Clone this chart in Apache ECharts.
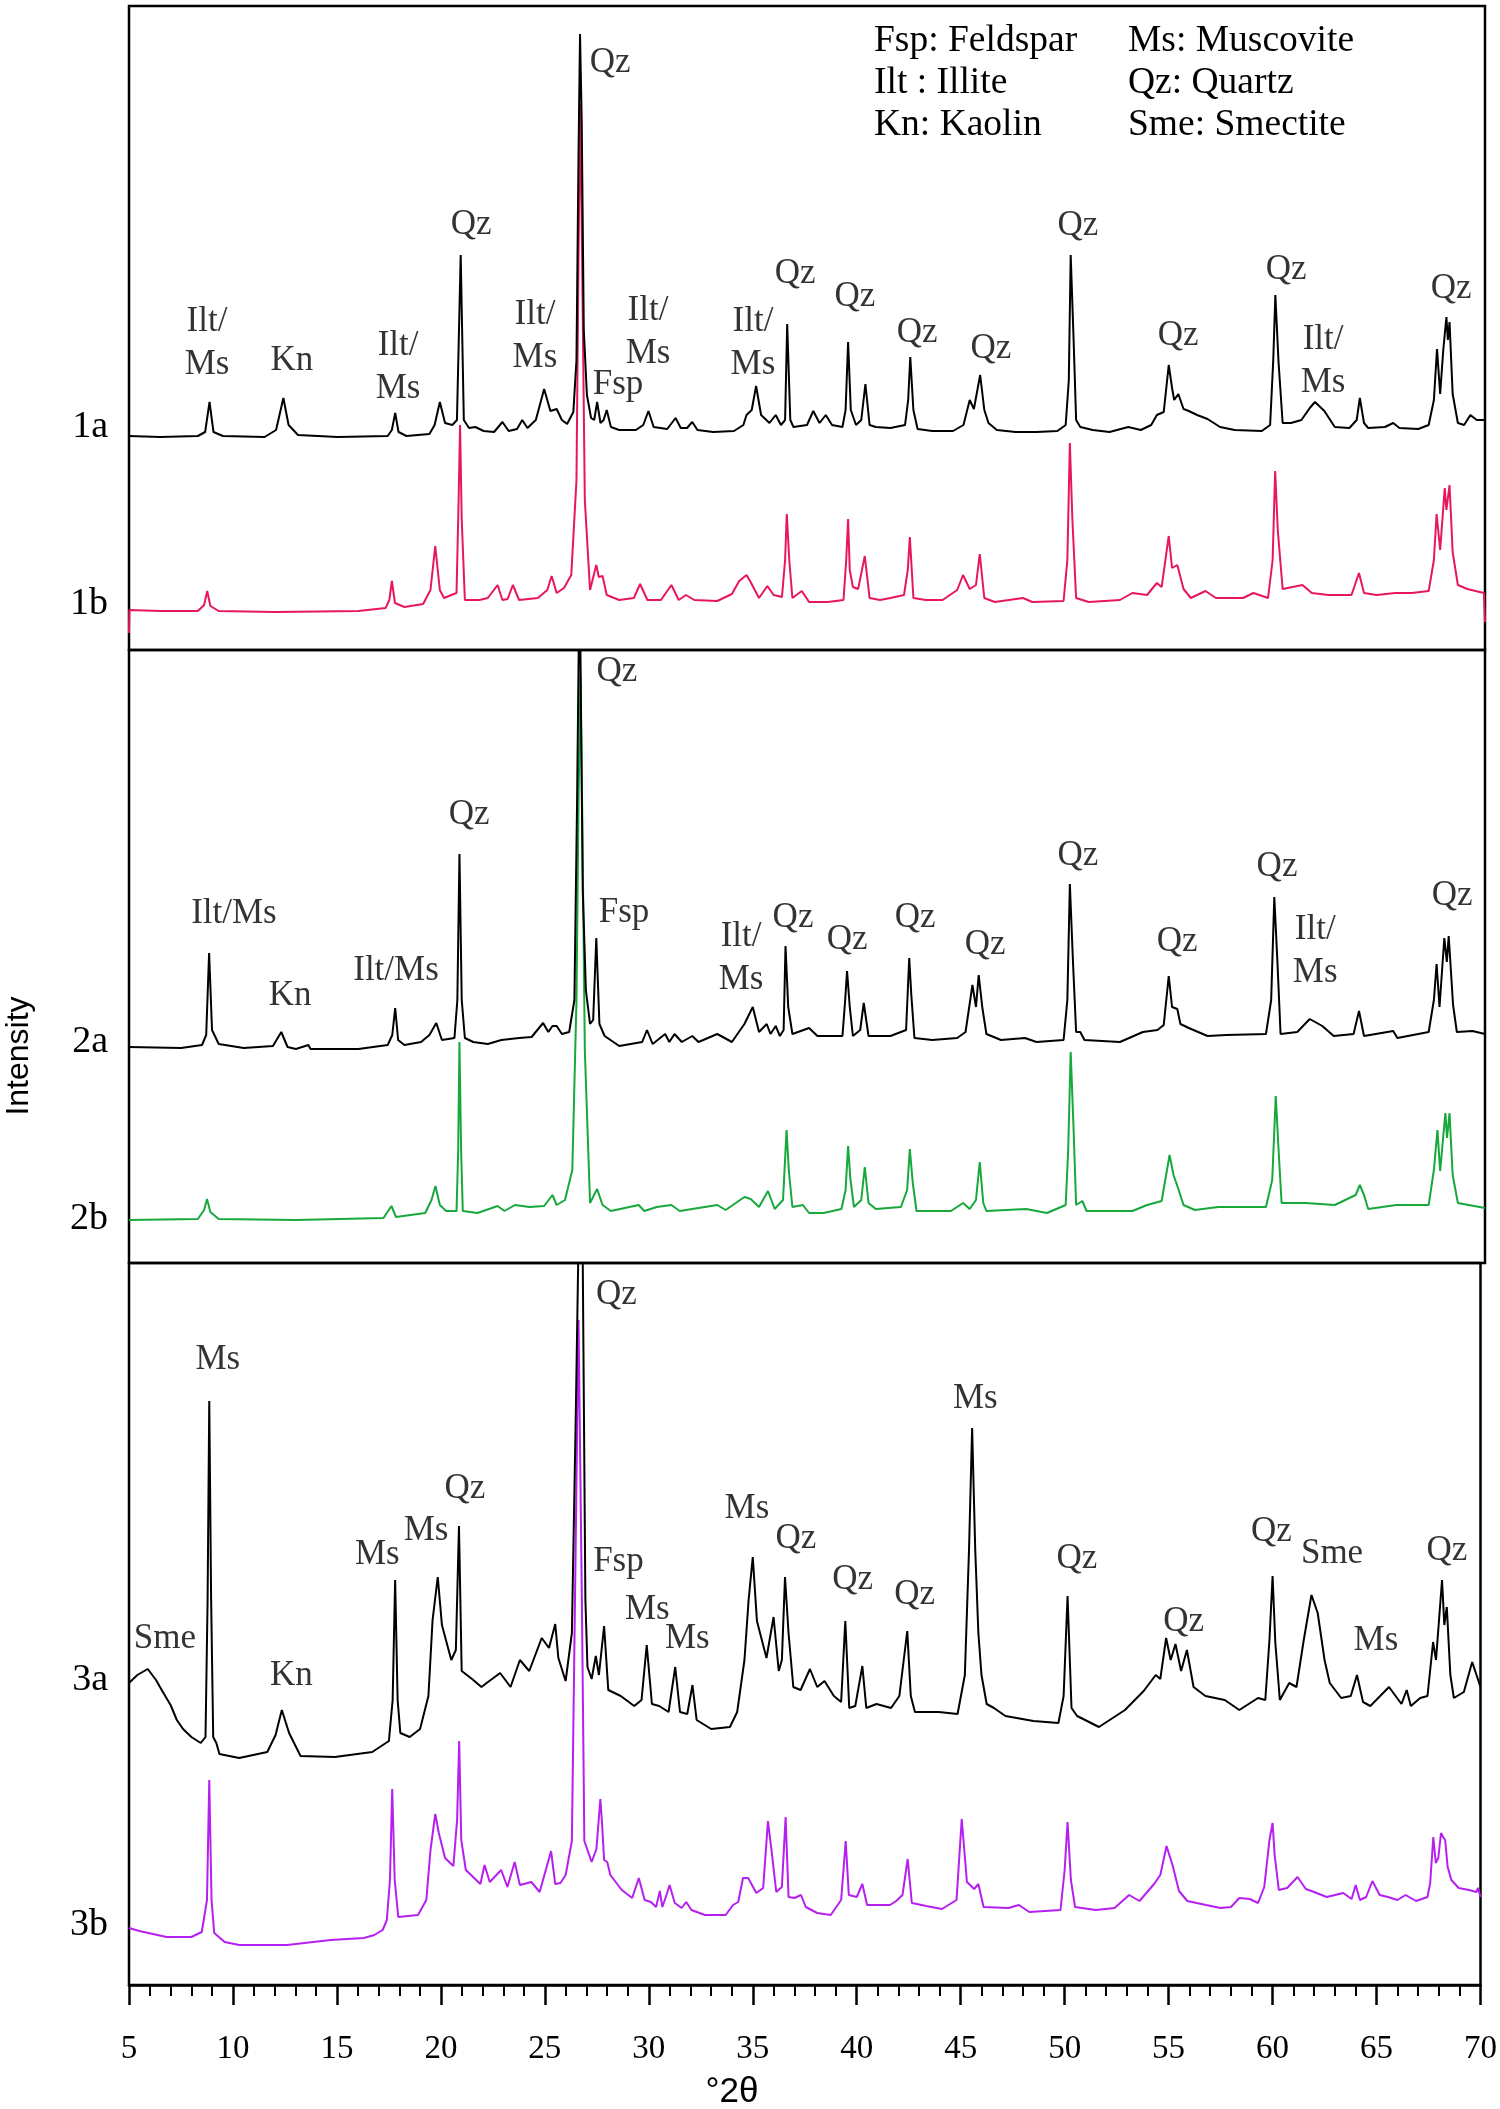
<!DOCTYPE html>
<html>
<head>
<meta charset="utf-8">
<script src="https://cdn.jsdelivr.net/npm/echarts@6/dist/echarts.min.js"></script>
<style>
html, body { margin: 0; padding: 0; background: #fff; }
#xrd { width: 1500px; height: 2109px; }
</style>
</head>
<body>
<div id="xrd"></div>
<script>
/* 数据: [2θ, 强度(a.u.)] */
const s1a = [
  [5.0,214],[6.5,213],[8.3,214],[8.65,218],[8.86,248],[9.05,218],[9.5,214],[11.5,213],[12.05,220],[12.4,252],
  [12.65,225],[13.1,215],[15,213],[17.4,214],[17.6,220],[17.76,237],[17.92,218],[18.3,214],[19.4,216],[19.65,225],
  [19.9,248],[20.15,227],[20.5,225],[20.72,230],[20.9,395],[21.05,230],[21.3,222],[21.6,223],[22.0,219],[22.5,218],
  [22.9,228],[23.2,219],[23.6,221],[23.85,230],[24.1,222],[24.5,230],[24.9,261],[25.2,239],[25.5,241],[25.75,230],
  [26.0,226],[26.3,238],[26.45,290],[26.55,500],[26.62,616],[26.7,530],[26.8,320],[26.95,255],[27.15,232],[27.3,230],
  [27.44,248],[27.6,227],[27.75,230],[27.9,240],[28.1,223],[28.5,220],[29.3,220],[29.65,225],[29.9,239],[30.15,223],
  [30.8,221],[31.2,232],[31.45,222],[31.75,222],[32.0,228],[32.25,220],[33.0,218],[34.0,219],[34.45,225],[34.6,235],
  [34.85,240],[35.06,264],[35.3,235],[35.7,227],[36.0,235],[36.25,225],[36.45,230],[36.55,326],[36.7,230],[36.85,223],
  [37.5,225],[37.8,239],[38.1,227],[38.4,235],[38.7,225],[39.2,223],[39.35,240],[39.47,308],[39.6,240],[39.85,225],
  [40.1,230],[40.3,266],[40.5,225],[40.8,223],[41.5,222],[42.2,225],[42.35,250],[42.45,293],[42.6,240],[42.8,221],
  [43.5,219],[44.5,219],[45.0,225],[45.3,250],[45.5,241],[45.8,275],[46.0,240],[46.2,227],[46.6,220],[47.5,218],
  [48.5,218],[49.5,219],[49.9,225],[50.05,270],[50.14,395],[50.28,310],[50.4,230],[50.6,223],[51.2,220],[52.0,218],
  [52.9,223],[53.5,220],[54.0,225],[54.27,235],[54.6,238],[54.84,285],[55.0,262],[55.1,250],[55.3,256],[55.55,241],
  [55.8,239],[56.2,235],[56.7,231],[57.3,223],[58.0,220],[59.3,219],[59.7,225],[59.85,290],[59.95,355],[60.1,289],
  [60.3,227],[60.7,227],[61.2,230],[61.6,242],[61.85,248],[62.3,239],[62.8,223],[63.5,222],[63.85,230],[64.0,252],
  [64.2,227],[64.4,222],[65.2,223],[65.6,227],[65.9,222],[66.8,221],[67.3,225],[67.55,250],[67.7,301],[67.85,256],
  [68.0,300],[68.15,333],[68.22,310],[68.3,328],[68.45,256],[68.7,227],[69.0,225],[69.3,235],[69.6,230],[70.0,230]
]
const s1b = [
  [5.0,17],[5.02,40],[6.5,39],[8.3,39],[8.6,45],[8.75,59],[8.9,44],[9.3,39],[12,38],[16,39],
  [17.3,42],[17.48,50],[17.6,69],[17.75,47],[18.2,43],[19.1,46],[19.45,60],[19.68,104],[19.9,60],[20.1,52],
  [20.45,55],[20.7,57],[20.8,150],[20.87,225],[20.95,130],[21.1,50],[21.8,50],[22.2,52],[22.67,65],[22.9,50],
  [23.15,51],[23.4,65],[23.7,50],[24.6,52],[25.05,60],[25.26,74],[25.5,57],[25.85,62],[26.2,75],[26.45,170],
  [26.55,400],[26.63,546],[26.72,390],[26.85,150],[27.1,60],[27.4,85],[27.52,73],[27.7,74],[27.9,55],[28.5,50],
  [29.2,52],[29.5,66],[29.85,50],[30.5,50],[31.0,65],[31.35,50],[31.7,55],[32.1,50],[33.2,49],[33.9,56],
  [34.25,69],[34.6,75],[34.77,69],[35.2,52],[35.6,64],[35.9,55],[36.3,53],[36.45,90],[36.53,136],[36.65,90],
  [36.8,52],[37.25,59],[37.6,48],[38.5,48],[39.25,50],[39.38,90],[39.47,131],[39.55,80],[39.7,63],[39.95,61],
  [40.27,94],[40.5,52],[41.0,50],[41.5,52],[42.15,55],[42.33,80],[42.43,113],[42.6,52],[43.2,50],[44.0,50],
  [44.7,60],[44.98,75],[45.3,61],[45.6,65],[45.78,96],[46.0,52],[46.5,48],[47.85,52],[48.3,48],[49.8,49],
  [49.98,90],[50.1,207],[50.22,131],[50.4,52],[51.0,48],[52.5,50],[53.1,57],[53.8,55],[54.27,67],[54.5,63],
  [54.84,114],[55.0,82],[55.25,85],[55.55,61],[55.9,52],[56.6,59],[57.1,52],[58.4,52],[58.9,57],[59.6,52],
  [59.82,90],[59.94,179],[60.07,119],[60.3,61],[61.25,65],[61.7,57],[62.5,55],[63.6,55],[63.96,77],[64.2,57],
  [64.8,55],[65.7,57],[66.5,57],[67.3,59],[67.55,90],[67.68,136],[67.85,100],[68.07,162],[68.15,140],[68.3,165],
  [68.45,98],[68.7,65],[69.15,61],[69.95,57],[70.0,28]
]
const s2a = [
  [5.0,216],[7.5,215],[8.5,218],[8.7,228],[8.84,310],[8.98,233],[9.3,219],[10.5,215],[11.9,217],[12.3,231],
  [12.6,216],[13.0,214],[13.6,218],[13.7,214],[16,214],[17.4,218],[17.62,228],[17.76,255],[17.9,223],[18.2,218],
  [19.0,221],[19.4,228],[19.73,240],[20.0,223],[20.6,225],[20.74,263],[20.84,409],[20.95,263],[21.1,225],[21.5,221],
  [22.2,219],[22.85,223],[23.7,225],[24.3,226],[24.85,240],[25.1,231],[25.3,237],[25.5,237],[25.75,229],[26.1,231],
  [26.35,263],[26.48,463],[26.6,700],[26.68,700],[26.75,373],[26.9,273],[27.1,239],[27.25,243],[27.4,325],[27.55,239],
  [27.8,227],[28.5,217],[29.6,221],[29.83,233],[30.1,219],[30.7,229],[30.9,221],[31.15,229],[31.5,221],[32.0,227],
  [32.3,221],[33.2,229],[33.9,221],[34.5,239],[34.9,256],[35.2,231],[35.57,239],[35.75,229],[36.0,237],[36.2,227],
  [36.38,233],[36.47,317],[36.6,256],[36.8,229],[37.6,235],[38.0,227],[39.2,227],[39.33,263],[39.42,292],[39.55,256],
  [39.7,227],[40.05,233],[40.22,260],[40.45,227],[41.5,227],[42.25,233],[42.4,305],[42.5,268],[42.65,225],[43.5,223],
  [44.7,225],[45.1,231],[45.43,278],[45.6,256],[45.73,288],[45.9,256],[46.1,229],[46.8,223],[47.95,225],[48.5,221],
  [49.8,223],[49.98,263],[50.1,379],[50.25,301],[50.4,231],[50.6,231],[50.8,223],[52.5,221],[53.6,231],[54.3,233],
  [54.6,238],[54.84,287],[55.0,256],[55.25,254],[55.4,239],[55.8,235],[56.7,227],[57.6,228],[59.5,229],[59.75,263],
  [59.9,366],[60.05,301],[60.2,229],[61.0,231],[61.6,244],[62.2,237],[62.75,227],[63.7,229],[63.96,252],[64.2,227],
  [65.6,232],[65.8,225],[67.3,231],[67.55,263],[67.68,299],[67.82,256],[68.05,325],[68.17,301],[68.26,327],[68.47,258],
  [68.65,231],[69.4,232],[70.0,229]
]
const s2b = [
  [5.0,43],[8.3,44],[8.6,53],[8.74,64],[8.9,51],[9.3,44],[13,43],[17.2,45],[17.58,57],[17.8,46],
  [19.2,50],[19.5,63],[19.69,77],[19.9,58],[20.2,52],[20.7,52],[20.78,113],[20.84,221],[20.92,113],[21.0,52],
  [21.7,50],[22.67,57],[23.0,52],[23.5,58],[24.2,56],[24.9,57],[25.3,68],[25.5,58],[25.9,63],[26.25,93],
  [26.45,263],[26.55,463],[26.64,588],[26.73,443],[26.85,213],[27.1,60],[27.44,74],[27.7,58],[28.1,52],[29.43,58],
  [29.7,52],[30.3,56],[31.0,58],[31.4,52],[33.2,58],[33.6,53],[34.5,66],[34.8,64],[35.2,56],[35.63,72],
  [35.95,54],[36.35,63],[36.52,133],[36.63,92],[36.8,56],[37.3,58],[37.6,50],[38.3,50],[39.15,54],[39.35,73],
  [39.47,117],[39.58,84],[39.75,56],[40.1,63],[40.27,96],[40.45,60],[40.8,54],[42.0,56],[42.3,73],[42.43,114],
  [42.57,80],[42.75,52],[44.4,52],[44.98,60],[45.3,54],[45.6,63],[45.78,101],[45.95,60],[46.1,52],[48.0,54],
  [49.0,50],[49.9,58],[50.02,113],[50.14,211],[50.28,133],[50.4,58],[50.7,62],[50.9,52],[53.1,52],[53.8,58],
  [54.5,62],[54.88,108],[55.07,88],[55.3,74],[55.55,58],[56.1,53],[57.2,56],[59.5,56],[59.8,83],[59.97,167],
  [60.1,115],[60.25,60],[61.4,60],[62.8,58],[63.8,68],[64.0,78],[64.2,68],[64.4,54],[65.75,58],[67.3,58],
  [67.55,93],[67.72,133],[67.85,92],[68.1,150],[68.18,125],[68.3,150],[68.45,88],[68.7,60],[70.0,55]
]
const s3a = [
  [5.0,302],[5.4,310],[5.9,316],[6.3,305],[6.6,294],[7.0,280],[7.3,265],[7.6,256],[8.0,248],[8.45,242],[8.68,248],[8.78,385],[8.86,584],
  [8.95,385],[9.05,248],[9.2,242],[9.35,231],[10.3,227],[11.65,233],[12.05,250],[12.35,275],[12.7,252],[13.25,229],
  [14.9,228],[16.7,233],[17.5,244],[17.68,285],[17.8,405],[17.92,285],[18.05,252],[18.5,248],[19.0,256],[19.4,289],
  [19.6,365],[19.85,408],[20.05,360],[20.5,325],[20.72,335],[20.87,459],[21.0,314],[21.5,306],[21.95,298],[22.2,302],
  [22.85,312],[23.35,298],[23.8,325],[24.25,314],[24.85,347],[25.2,337],[25.5,361],[25.65,327],[26.0,304],[26.3,352],
  [26.5,585],[26.65,785],[26.8,785],[26.95,385],[27.05,318],[27.25,306],[27.45,329],[27.6,310],[27.85,359],[28.05,295],
  [28.65,289],[29.3,279],[29.65,285],[29.9,340],[30.15,281],[30.5,279],[30.95,273],[31.27,318],[31.5,273],[31.85,271],
  [32.1,300],[32.3,265],[33.0,256],[33.9,258],[34.25,273],[34.6,325],[34.8,385],[35.0,428],[35.2,364],[35.66,327],
  [36.0,368],[36.25,314],[36.4,325],[36.55,408],[36.72,352],[36.95,298],[37.3,295],[37.75,316],[38.1,298],[38.45,304],
  [38.9,289],[39.25,283],[39.45,364],[39.64,277],[39.93,279],[40.27,319],[40.46,277],[40.95,281],[41.65,277],[42.05,289],
  [42.43,354],[42.6,289],[42.8,273],[43.95,273],[44.85,271],[45.2,310],[45.4,435],[45.55,557],[45.7,435],[45.85,352],
  [46.0,310],[46.25,281],[46.6,277],[47.15,269],[48.5,264],[49.7,262],[49.95,289],[50.14,389],[50.33,277],[50.6,269],
  [51.65,258],[52.9,275],[53.8,294],[54.38,310],[54.6,306],[54.88,347],[55.1,325],[55.33,341],[55.6,314],[55.88,335],
  [56.2,298],[56.77,289],[57.7,285],[58.4,275],[59.3,287],[59.65,285],[59.85,345],[60.0,409],[60.13,343],[60.35,285],
  [60.8,302],[61.15,298],[61.5,345],[61.87,390],[62.17,372],[62.5,325],[62.75,302],[63.3,287],[63.76,289],[64.06,310],
  [64.35,283],[64.7,279],[65.6,298],[66.2,281],[66.45,295],[66.65,279],[67.1,287],[67.45,289],[67.72,343],[67.86,325],
  [68.15,405],[68.26,360],[68.38,378],[68.55,310],[68.72,287],[69.2,293],[69.6,323],[70.0,298]
]
const s3b = [
  [5.0,57],[5.5,54],[6.8,48],[8.0,48],[8.5,53],[8.75,85],[8.86,205],[8.97,85],[9.1,52],[9.6,43],
  [10.3,40],[12.6,40],[14.7,45],[15.5,46],[16.3,47],[16.8,50],[17.2,55],[17.4,65],[17.55,105],[17.66,196],[17.78,105],[17.95,68],
  [18.9,70],[19.3,85],[19.5,135],[19.73,171],[19.9,152],[20.2,127],[20.6,119],[20.78,165],[20.88,244],[20.98,145],
  [21.2,115],[21.6,107],[21.9,101],[22.1,120],[22.35,103],[22.9,115],[23.2,98],[23.55,123],[23.8,100],[24.35,103],
  [24.75,93],[25.3,134],[25.5,101],[25.75,102],[26.0,110],[26.3,144],[26.45,385],[26.62,665],[26.78,385],[26.9,144],
  [27.25,123],[27.48,136],[27.67,186],[27.75,162],[27.85,125],[28.0,123],[28.15,110],[28.7,95],[29.2,87],[29.52,107],
  [29.8,85],[30.1,83],[30.35,78],[30.53,94],[30.65,78],[30.85,90],[31.0,100],[31.25,82],[31.58,77],[31.8,83],
  [32.05,75],[32.7,70],[33.7,70],[34.05,80],[34.3,83],[34.53,107],[34.78,107],[35.17,92],[35.5,97],[35.73,164],
  [35.9,135],[36.13,93],[36.4,98],[36.58,168],[36.72,88],[37.0,87],[37.32,90],[37.55,78],[38.1,72],[38.75,70],
  [39.25,85],[39.47,144],[39.62,90],[40.0,88],[40.27,101],[40.5,80],[41.6,80],[41.9,84],[42.2,90],[42.45,126],
  [42.65,82],[43.35,79],[44.1,76],[44.8,85],[45.05,166],[45.3,103],[45.65,96],[45.85,101],[46.1,78],[47.3,77],
  [47.8,80],[48.3,73],[49.8,75],[50.0,115],[50.14,163],[50.3,105],[50.5,78],[51.5,75],[52.4,77],[53.1,90],
  [53.6,84],[54.3,101],[54.6,110],[54.9,139],[55.2,119],[55.5,94],[55.9,84],[56.8,80],[57.5,77],[58.0,78],
  [58.4,87],[58.9,86],[59.3,82],[59.6,98],[59.85,145],[60.0,162],[60.1,130],[60.3,95],[60.7,97],[61.2,108],
  [61.6,96],[62.0,93],[62.6,88],[63.4,92],[63.8,86],[64.0,100],[64.2,85],[64.5,88],[64.8,104],[65.15,90],
  [65.55,88],[66.0,85],[66.4,90],[66.9,84],[67.45,88],[67.58,102],[67.73,148],[67.85,122],[67.97,127],[68.1,152],
  [68.2,148],[68.3,145],[68.42,118],[68.6,105],[68.95,97],[69.45,95],[69.8,93],[69.88,97],[70.0,88]
]

/* 峰标注: [2θ, 强度, 文本] */
const labels1 = [
  [8.74,307,'Ilt/\nMs'],[12.81,289,'Kn'],[17.9,283,'Ilt/\nMs'],[21.4,425,'Qz'],[24.46,314,'Ilt/\nMs'],
  [28.06,587,'Qz'],[28.44,265,'Fsp'],[29.88,318,'Ilt/\nMs'],[34.91,307,'Ilt/\nMs'],[36.93,376,'Qz'],
  [39.8,353,'Qz'],[42.78,317,'Qz'],[46.32,301,'Qz'],[50.49,424,'Qz'],[55.29,314,'Qz'],[60.47,380,'Qz'],
  [62.24,289,'Ilt/\nMs'],[68.38,361,'Qz']
]
const labels2 = [
  [28.39,591,'Qz'],[21.3,448,'Qz'],[10.03,349,'Ilt/Ms'],[28.73,350,'Fsp'],[12.72,267,'Kn'],[17.8,292,'Ilt/Ms'],
  [34.34,305,'Ilt/\nMs'],[36.83,345,'Qz'],[39.42,323,'Qz'],[42.68,345,'Qz'],[46.04,318,'Qz'],[50.49,407,'Qz'],
  [55.24,321,'Qz'],[60.03,396,'Qz'],[61.86,312,'Ilt/\nMs'],[68.42,367,'Qz']
]
const labels3 = [
  [28.44,690,'Qz'],[9.27,625,'Ms'],[21.16,496,'Qz'],[19.29,454,'Ms'],[16.94,430,'Ms'],[28.54,423,'Fsp'],
  [6.73,346,'Sme'],[29.93,375,'Ms'],[31.85,346,'Ms'],[12.81,309,'Kn'],[34.72,476,'Ms'],[45.7,586,'Ms'],
  [37.07,446,'Qz'],[39.8,405,'Qz'],[42.78,390,'Qz'],[50.59,426,'Qz'],[55.72,363,'Qz'],[59.94,453,'Qz'],
  [62.86,431,'Sme'],[64.97,344,'Ms'],[68.38,434,'Qz']
]
const sampleNames = ['1a', '1b', '2a', '2b', '3a', '3b']
const legendLeft = ['Fsp: Feldspar', 'Ilt : Illite', 'Kn: Kaolin']
const legendRight = ['Ms: Muscovite', 'Qz: Quartz', 'Sme: Smectite']

const serif = "'Liberation Serif', 'Times New Roman', serif"
const sans = "'Liberation Sans', Arial, sans-serif"

// 三个面板 (像素布局)
const panels = [
  { a: s1a, b: s1b, colorB: '#e8175d', labels: labels1, top: 6, height: 644 },
  { a: s2a, b: s2b, colorB: '#17a83c', labels: labels2, top: 650, height: 613 },
  { a: s3a, b: s3b, colorB: '#b61ff0', labels: labels3, top: 1263, height: 722 },
]
const sampleY = [427, 604, 1042, 1219, 1680, 1925]

let grid = [], xAxis = [], yAxis = [], series = []
panels.forEach((p, i) => {
  grid.push({
    left: 129, top: p.top, width: 1356, height: p.height,
    show: true, borderColor: '#000', borderWidth: 2.5, backgroundColor: 'transparent',
  })
  const last = i === panels.length - 1
  xAxis.push({
    gridIndex: i, type: 'value', min: 5, max: 70, interval: 5,
    show: last,
    axisLine: { show: true, onZero: false, lineStyle: { color: '#000', width: 2.5 } },
    axisTick: { show: true, length: 20, lineStyle: { color: '#000', width: 2.5 } },
    minorTick: { show: true, splitNumber: 5, length: 11, lineStyle: { color: '#000', width: 2 } },
    splitLine: { show: false },
    axisLabel: { margin: 48, fontSize: 33, fontFamily: serif, color: '#000' },
  })
  yAxis.push({ gridIndex: i, type: 'value', min: 0, max: p.height, show: false, splitLine: { show: false } })
  series.push({
    type: 'line', xAxisIndex: i, yAxisIndex: i, data: p.b, showSymbol: false, symbol: 'none',
    lineStyle: { color: p.colorB, width: 2 }, z: 2, animation: false,
  })
  series.push({
    type: 'line', xAxisIndex: i, yAxisIndex: i, data: p.a, showSymbol: false, symbol: 'none',
    lineStyle: { color: '#000', width: 2 }, z: 3, animation: false,
  })
  // 标注文字
  series.push({
    type: 'scatter', xAxisIndex: i, yAxisIndex: i, data: p.labels, symbolSize: 1, silent: true, z: 5,
    itemStyle: { color: 'rgba(0,0,0,0)' },
    label: {
      show: true, position: 'inside', formatter: d => d.data[2],
      fontSize: 35, lineHeight: 43, fontFamily: serif, color: '#000',
    },
    animation: false,
  })
})

let graphic = []
sampleNames.forEach((n, i) => {
  graphic.push({
    type: 'text', x: 108, y: sampleY[i],
    style: { text: n, font: '38px ' + serif, fill: '#000', align: 'right', verticalAlign: 'middle', textAlign: 'right', textVerticalAlign: 'middle' },
  })
})
legendLeft.forEach((t, i) => {
  graphic.push({
    type: 'text', x: 874, y: 41 + i * 42,
    style: { text: t, font: '37.5px ' + serif, fill: '#000', align: 'left', verticalAlign: 'middle', textAlign: 'left', textVerticalAlign: 'middle' },
  })
})
legendRight.forEach((t, i) => {
  graphic.push({
    type: 'text', x: 1128, y: 41 + i * 42,
    style: { text: t, font: '37.5px ' + serif, fill: '#000', align: 'left', verticalAlign: 'middle', textAlign: 'left', textVerticalAlign: 'middle' },
  })
})
graphic.push({
  type: 'text', x: 732, y: 2092,
  style: { text: '°2θ', font: '35px ' + sans, fill: '#000', align: 'center', verticalAlign: 'middle', textAlign: 'center', textVerticalAlign: 'middle' },
})
graphic.push({
  type: 'text', x: 19, y: 1056, rotation: Math.PI / 2,
  style: { text: 'Intensity', font: '32px ' + sans, fill: '#000', align: 'center', verticalAlign: 'middle', textAlign: 'center', textVerticalAlign: 'middle' },
})

let option = {
  animation: false,
  backgroundColor: '#fff',
  grid, xAxis, yAxis, series, graphic,
}

let chart = echarts.init(document.getElementById('xrd'))
chart.setOption(option)
</script>
</body>
</html>
